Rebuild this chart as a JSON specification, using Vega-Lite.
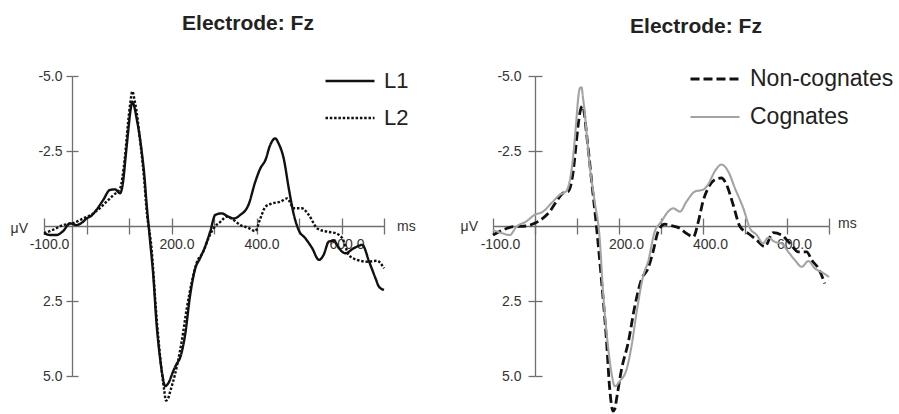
{
  "$schema": "https://vega.github.io/schema/vega-lite/v6.json",
  "padding": {"left": 10, "top": 13, "right": 2, "bottom": 2},
  "bounds": "flush",
  "spacing": 109,
  "datasets": {
    "lang": [
      {"t": -100, "uv": 0.24, "cond": "L1"}, {"t": -85, "uv": 0.3, "cond": "L1"}, {"t": -71, "uv": 0.3, "cond": "L1"}, {"t": -55, "uv": 0.17, "cond": "L1"}, {"t": -39, "uv": -0.09, "cond": "L1"}, {"t": -24, "uv": -0.03, "cond": "L1"}, {"t": -10, "uv": -0.12, "cond": "L1"}, {"t": 0, "uv": -0.25, "cond": "L1"}, {"t": 12, "uv": -0.35, "cond": "L1"}, {"t": 23, "uv": -0.53, "cond": "L1"}, {"t": 39, "uv": -0.86, "cond": "L1"}, {"t": 55, "uv": -1.2, "cond": "L1"}, {"t": 67, "uv": -1.22, "cond": "L1"}, {"t": 79, "uv": -1.09, "cond": "L1"}, {"t": 86, "uv": -1.47, "cond": "L1"}, {"t": 92, "uv": -2.3, "cond": "L1"}, {"t": 98, "uv": -3.14, "cond": "L1"}, {"t": 103, "uv": -3.8, "cond": "L1"}, {"t": 108, "uv": -4.14, "cond": "L1"}, {"t": 113, "uv": -3.95, "cond": "L1"}, {"t": 118, "uv": -3.58, "cond": "L1"}, {"t": 124, "uv": -3.1, "cond": "L1"}, {"t": 130, "uv": -2.47, "cond": "L1"}, {"t": 136, "uv": -1.7, "cond": "L1"}, {"t": 141, "uv": -0.81, "cond": "L1"}, {"t": 149, "uv": 0.41, "cond": "L1"}, {"t": 157, "uv": 1.63, "cond": "L1"}, {"t": 165, "uv": 3.29, "cond": "L1"}, {"t": 173, "uv": 4.4, "cond": "L1"}, {"t": 179, "uv": 5.0, "cond": "L1"}, {"t": 185, "uv": 5.34, "cond": "L1"}, {"t": 193, "uv": 5.23, "cond": "L1"}, {"t": 204, "uv": 4.84, "cond": "L1"}, {"t": 212, "uv": 4.6, "cond": "L1"}, {"t": 220, "uv": 4.4, "cond": "L1"}, {"t": 232, "uv": 3.63, "cond": "L1"}, {"t": 244, "uv": 2.29, "cond": "L1"}, {"t": 256, "uv": 1.41, "cond": "L1"}, {"t": 267, "uv": 1.08, "cond": "L1"}, {"t": 279, "uv": 0.69, "cond": "L1"}, {"t": 291, "uv": 0.19, "cond": "L1"}, {"t": 303, "uv": -0.37, "cond": "L1"}, {"t": 318, "uv": -0.42, "cond": "L1"}, {"t": 334, "uv": -0.31, "cond": "L1"}, {"t": 346, "uv": -0.25, "cond": "L1"}, {"t": 362, "uv": -0.37, "cond": "L1"}, {"t": 381, "uv": -0.7, "cond": "L1"}, {"t": 397, "uv": -1.47, "cond": "L1"}, {"t": 409, "uv": -1.92, "cond": "L1"}, {"t": 421, "uv": -2.2, "cond": "L1"}, {"t": 432, "uv": -2.69, "cond": "L1"}, {"t": 444, "uv": -2.92, "cond": "L1"}, {"t": 452, "uv": -2.75, "cond": "L1"}, {"t": 464, "uv": -2.25, "cond": "L1"}, {"t": 476, "uv": -1.25, "cond": "L1"}, {"t": 488, "uv": -0.37, "cond": "L1"}, {"t": 499, "uv": 0.13, "cond": "L1"}, {"t": 515, "uv": 0.41, "cond": "L1"}, {"t": 531, "uv": 0.74, "cond": "L1"}, {"t": 547, "uv": 1.13, "cond": "L1"}, {"t": 558, "uv": 0.96, "cond": "L1"}, {"t": 570, "uv": 0.52, "cond": "L1"}, {"t": 582, "uv": 0.49, "cond": "L1"}, {"t": 594, "uv": 0.74, "cond": "L1"}, {"t": 609, "uv": 0.91, "cond": "L1"}, {"t": 629, "uv": 0.74, "cond": "L1"}, {"t": 649, "uv": 0.63, "cond": "L1"}, {"t": 665, "uv": 1.19, "cond": "L1"}, {"t": 680, "uv": 1.74, "cond": "L1"}, {"t": 688, "uv": 2.02, "cond": "L1"}, {"t": 700, "uv": 2.13, "cond": "L1"},
      {"t": -100, "uv": 0.24, "cond": "L2"}, {"t": -79, "uv": 0.13, "cond": "L2"}, {"t": -55, "uv": -0.03, "cond": "L2"}, {"t": -32, "uv": -0.09, "cond": "L2"}, {"t": -8, "uv": -0.25, "cond": "L2"}, {"t": 16, "uv": -0.42, "cond": "L2"}, {"t": 31, "uv": -0.59, "cond": "L2"}, {"t": 47, "uv": -0.81, "cond": "L2"}, {"t": 63, "uv": -1.03, "cond": "L2"}, {"t": 79, "uv": -1.25, "cond": "L2"}, {"t": 90, "uv": -2.25, "cond": "L2"}, {"t": 98, "uv": -3.47, "cond": "L2"}, {"t": 103, "uv": -4.1, "cond": "L2"}, {"t": 108, "uv": -4.49, "cond": "L2"}, {"t": 113, "uv": -4.2, "cond": "L2"}, {"t": 118, "uv": -3.8, "cond": "L2"}, {"t": 124, "uv": -3.1, "cond": "L2"}, {"t": 130, "uv": -2.36, "cond": "L2"}, {"t": 136, "uv": -1.5, "cond": "L2"}, {"t": 141, "uv": -0.59, "cond": "L2"}, {"t": 153, "uv": 0.74, "cond": "L2"}, {"t": 165, "uv": 3.07, "cond": "L2"}, {"t": 177, "uv": 4.84, "cond": "L2"}, {"t": 183, "uv": 5.5, "cond": "L2"}, {"t": 187, "uv": 5.82, "cond": "L2"}, {"t": 192, "uv": 5.75, "cond": "L2"}, {"t": 197, "uv": 5.51, "cond": "L2"}, {"t": 208, "uv": 4.96, "cond": "L2"}, {"t": 224, "uv": 3.85, "cond": "L2"}, {"t": 236, "uv": 2.74, "cond": "L2"}, {"t": 248, "uv": 1.85, "cond": "L2"}, {"t": 259, "uv": 1.24, "cond": "L2"}, {"t": 275, "uv": 0.85, "cond": "L2"}, {"t": 287, "uv": 0.41, "cond": "L2"}, {"t": 299, "uv": 0.08, "cond": "L2"}, {"t": 315, "uv": -0.14, "cond": "L2"}, {"t": 330, "uv": -0.31, "cond": "L2"}, {"t": 346, "uv": -0.2, "cond": "L2"}, {"t": 362, "uv": -0.03, "cond": "L2"}, {"t": 381, "uv": 0.06, "cond": "L2"}, {"t": 397, "uv": 0.17, "cond": "L2"}, {"t": 409, "uv": -0.25, "cond": "L2"}, {"t": 421, "uv": -0.64, "cond": "L2"}, {"t": 436, "uv": -0.75, "cond": "L2"}, {"t": 456, "uv": -0.81, "cond": "L2"}, {"t": 472, "uv": -0.92, "cond": "L2"}, {"t": 488, "uv": -0.59, "cond": "L2"}, {"t": 507, "uv": -0.59, "cond": "L2"}, {"t": 523, "uv": -0.37, "cond": "L2"}, {"t": 543, "uv": 0.08, "cond": "L2"}, {"t": 566, "uv": 0.19, "cond": "L2"}, {"t": 586, "uv": 0.24, "cond": "L2"}, {"t": 602, "uv": 0.41, "cond": "L2"}, {"t": 617, "uv": 0.96, "cond": "L2"}, {"t": 637, "uv": 1.13, "cond": "L2"}, {"t": 661, "uv": 1.19, "cond": "L2"}, {"t": 684, "uv": 1.16, "cond": "L2"}, {"t": 700, "uv": 1.41, "cond": "L2"}
    ],
    "cog": [
      {"t": -100, "uv": 0.3, "cond": "Non-cognates"}, {"t": -76, "uv": 0.13, "cond": "Non-cognates"}, {"t": -52, "uv": 0.02, "cond": "Non-cognates"}, {"t": -21, "uv": 0.0, "cond": "Non-cognates"}, {"t": -1, "uv": -0.09, "cond": "Non-cognates"}, {"t": 19, "uv": -0.26, "cond": "Non-cognates"}, {"t": 35, "uv": -0.48, "cond": "Non-cognates"}, {"t": 51, "uv": -0.82, "cond": "Non-cognates"}, {"t": 67, "uv": -1.1, "cond": "Non-cognates"}, {"t": 79, "uv": -1.15, "cond": "Non-cognates"}, {"t": 91, "uv": -1.82, "cond": "Non-cognates"}, {"t": 97, "uv": -2.6, "cond": "Non-cognates"}, {"t": 103, "uv": -3.39, "cond": "Non-cognates"}, {"t": 108, "uv": -3.85, "cond": "Non-cognates"}, {"t": 113, "uv": -4.0, "cond": "Non-cognates"}, {"t": 118, "uv": -3.7, "cond": "Non-cognates"}, {"t": 122, "uv": -3.17, "cond": "Non-cognates"}, {"t": 128, "uv": -2.4, "cond": "Non-cognates"}, {"t": 134, "uv": -1.6, "cond": "Non-cognates"}, {"t": 146, "uv": -0.03, "cond": "Non-cognates"}, {"t": 158, "uv": 1.76, "cond": "Non-cognates"}, {"t": 170, "uv": 3.77, "cond": "Non-cognates"}, {"t": 178, "uv": 5.45, "cond": "Non-cognates"}, {"t": 186, "uv": 6.17, "cond": "Non-cognates"}, {"t": 190, "uv": 6.1, "cond": "Non-cognates"}, {"t": 194, "uv": 5.78, "cond": "Non-cognates"}, {"t": 206, "uv": 4.78, "cond": "Non-cognates"}, {"t": 222, "uv": 3.88, "cond": "Non-cognates"}, {"t": 238, "uv": 2.65, "cond": "Non-cognates"}, {"t": 254, "uv": 1.76, "cond": "Non-cognates"}, {"t": 269, "uv": 1.42, "cond": "Non-cognates"}, {"t": 281, "uv": 0.86, "cond": "Non-cognates"}, {"t": 293, "uv": 0.19, "cond": "Non-cognates"}, {"t": 309, "uv": -0.06, "cond": "Non-cognates"}, {"t": 325, "uv": -0.01, "cond": "Non-cognates"}, {"t": 345, "uv": 0.08, "cond": "Non-cognates"}, {"t": 361, "uv": 0.25, "cond": "Non-cognates"}, {"t": 377, "uv": 0.36, "cond": "Non-cognates"}, {"t": 389, "uv": -0.15, "cond": "Non-cognates"}, {"t": 400, "uv": -0.82, "cond": "Non-cognates"}, {"t": 412, "uv": -1.26, "cond": "Non-cognates"}, {"t": 428, "uv": -1.54, "cond": "Non-cognates"}, {"t": 444, "uv": -1.6, "cond": "Non-cognates"}, {"t": 456, "uv": -1.38, "cond": "Non-cognates"}, {"t": 472, "uv": -0.7, "cond": "Non-cognates"}, {"t": 488, "uv": 0.02, "cond": "Non-cognates"}, {"t": 508, "uv": 0.25, "cond": "Non-cognates"}, {"t": 528, "uv": 0.47, "cond": "Non-cognates"}, {"t": 547, "uv": 0.69, "cond": "Non-cognates"}, {"t": 567, "uv": 0.22, "cond": "Non-cognates"}, {"t": 587, "uv": 0.3, "cond": "Non-cognates"}, {"t": 607, "uv": 0.58, "cond": "Non-cognates"}, {"t": 627, "uv": 0.86, "cond": "Non-cognates"}, {"t": 647, "uv": 0.86, "cond": "Non-cognates"}, {"t": 659, "uv": 1.14, "cond": "Non-cognates"}, {"t": 675, "uv": 1.42, "cond": "Non-cognates"}, {"t": 690, "uv": 1.92, "cond": "Non-cognates"},
      {"t": -100, "uv": 0.13, "cond": "Cognates"}, {"t": -76, "uv": 0.25, "cond": "Cognates"}, {"t": -60, "uv": 0.3, "cond": "Cognates"}, {"t": -44, "uv": 0.02, "cond": "Cognates"}, {"t": -21, "uv": -0.15, "cond": "Cognates"}, {"t": -1, "uv": -0.37, "cond": "Cognates"}, {"t": 19, "uv": -0.48, "cond": "Cognates"}, {"t": 39, "uv": -0.76, "cond": "Cognates"}, {"t": 59, "uv": -1.04, "cond": "Cognates"}, {"t": 75, "uv": -1.17, "cond": "Cognates"}, {"t": 84, "uv": -1.6, "cond": "Cognates"}, {"t": 90, "uv": -2.2, "cond": "Cognates"}, {"t": 95, "uv": -2.94, "cond": "Cognates"}, {"t": 100, "uv": -3.8, "cond": "Cognates"}, {"t": 103, "uv": -4.28, "cond": "Cognates"}, {"t": 107, "uv": -4.6, "cond": "Cognates"}, {"t": 111, "uv": -4.62, "cond": "Cognates"}, {"t": 114, "uv": -4.3, "cond": "Cognates"}, {"t": 118, "uv": -3.84, "cond": "Cognates"}, {"t": 124, "uv": -2.9, "cond": "Cognates"}, {"t": 130, "uv": -2.05, "cond": "Cognates"}, {"t": 142, "uv": -0.82, "cond": "Cognates"}, {"t": 154, "uv": 0.41, "cond": "Cognates"}, {"t": 162, "uv": 2.2, "cond": "Cognates"}, {"t": 172, "uv": 3.77, "cond": "Cognates"}, {"t": 182, "uv": 4.89, "cond": "Cognates"}, {"t": 190, "uv": 5.34, "cond": "Cognates"}, {"t": 202, "uv": 5.17, "cond": "Cognates"}, {"t": 218, "uv": 4.78, "cond": "Cognates"}, {"t": 230, "uv": 3.99, "cond": "Cognates"}, {"t": 242, "uv": 2.87, "cond": "Cognates"}, {"t": 258, "uv": 1.64, "cond": "Cognates"}, {"t": 269, "uv": 1.2, "cond": "Cognates"}, {"t": 285, "uv": 0.19, "cond": "Cognates"}, {"t": 301, "uv": -0.15, "cond": "Cognates"}, {"t": 317, "uv": -0.48, "cond": "Cognates"}, {"t": 329, "uv": -0.59, "cond": "Cognates"}, {"t": 345, "uv": -0.48, "cond": "Cognates"}, {"t": 361, "uv": -0.82, "cond": "Cognates"}, {"t": 381, "uv": -1.15, "cond": "Cognates"}, {"t": 400, "uv": -1.21, "cond": "Cognates"}, {"t": 412, "uv": -1.38, "cond": "Cognates"}, {"t": 428, "uv": -1.82, "cond": "Cognates"}, {"t": 444, "uv": -2.05, "cond": "Cognates"}, {"t": 460, "uv": -1.82, "cond": "Cognates"}, {"t": 476, "uv": -1.26, "cond": "Cognates"}, {"t": 496, "uv": -0.59, "cond": "Cognates"}, {"t": 512, "uv": 0.08, "cond": "Cognates"}, {"t": 528, "uv": 0.3, "cond": "Cognates"}, {"t": 543, "uv": 0.58, "cond": "Cognates"}, {"t": 555, "uv": 0.39, "cond": "Cognates"}, {"t": 571, "uv": 0.53, "cond": "Cognates"}, {"t": 587, "uv": 0.58, "cond": "Cognates"}, {"t": 603, "uv": 0.86, "cond": "Cognates"}, {"t": 619, "uv": 1.14, "cond": "Cognates"}, {"t": 635, "uv": 1.36, "cond": "Cognates"}, {"t": 651, "uv": 1.17, "cond": "Cognates"}, {"t": 667, "uv": 1.42, "cond": "Cognates"}, {"t": 682, "uv": 1.53, "cond": "Cognates"}, {"t": 700, "uv": 1.7, "cond": "Cognates"}
    ]
  },
  "hconcat": [
    {
      "width": 340,
      "height": 300,
      "title": {"text": "Electrode: Fz", "fontSize": 21, "fontWeight": "bold", "font": "Liberation Sans", "color": "#222", "anchor": "middle", "frame": "group", "dx": 34, "offset": 21},
      "layer": [
        {
          "data": {"name": "lang"},
          "mark": {"type": "line", "strokeWidth": 2.4, "color": "#111", "interpolate": "monotone"},
          "encoding": {
            "x": {"field": "t", "type": "quantitative", "title": null,
              "scale": {"domain": [-100, 700], "nice": false, "zero": false},
              "axis": {"orient": "bottom", "offset": -150, "values": [-100, 0, 100, 200, 300, 400, 500, 600, 700], "tickSize": 8, "labelPadding": 3, "labelOffset": 5, "labelFlush": false, "labelOverlap": false, "labelExpr": "indexof([-100, 200, 400, 600], datum.value) >= 0 ? replace(format(datum.value, '.1f'), '\u2212', '-') : ''"}},
            "y": {"field": "uv", "type": "quantitative", "title": null,
              "scale": {"domain": [-5, 5], "reverse": true, "nice": false, "zero": false},
              "axis": {"orient": "left", "offset": -28, "values": [-5, -2.5, 2.5, 5], "labelExpr": "replace(format(datum.value, '.1f'), '\u2212', '-')", "tickSize": 6, "labelPadding": 4}},
            "strokeDash": {"field": "cond", "type": "nominal",
              "scale": {"domain": ["L1", "L2"], "range": [[1, 0], [2.5, 1.8]]},
              "legend": {"orient": "none", "legendX": 280, "legendY": -21, "title": null, "symbolType": "stroke", "symbolSize": 2401, "symbolStrokeWidth": 2.4, "symbolStrokeColor": "#111", "labelFontSize": 22, "labelFont": "Liberation Sans", "labelColor": "#222", "labelOffset": 8, "rowPadding": -10, "padding": 0}}
          }
        },
        {
          "data": {"values": [{}]},
          "mark": {"type": "text", "text": "μV", "align": "right", "baseline": "middle", "dx": -16, "dy": 3, "fontSize": 14, "font": "Liberation Sans", "color": "#333"},
          "encoding": {
            "x": {"datum": -100, "type": "quantitative", "title": null,
              "axis": {"orient": "top", "offset": -150, "values": [-100, 0, 100, 200, 300, 400, 500, 600, 700], "tickSize": 8, "labels": false, "domain": false}},
            "y": {"datum": 0, "type": "quantitative", "title": null,
              "axis": {"orient": "right", "offset": -312, "values": [-5, -2.5, 2.5, 5], "tickSize": 6, "labels": false, "domain": false}}
          }
        },
        {
          "data": {"values": [{}]},
          "mark": {"type": "text", "text": "ms", "align": "left", "baseline": "middle", "dx": 13, "dy": 1, "fontSize": 14, "font": "Liberation Sans", "color": "#333"},
          "encoding": {
            "x": {"datum": 700, "type": "quantitative", "axis": null},
            "y": {"datum": 0, "type": "quantitative", "axis": null}
          }
        }
      ],
      "resolve": {"axis": {"x": "independent", "y": "independent"}}
    },
    {
      "width": 336,
      "height": 300,
      "title": {"text": "Electrode: Fz", "fontSize": 21, "fontWeight": "bold", "font": "Liberation Sans", "color": "#222", "anchor": "middle", "frame": "group", "dx": 35, "offset": 16},
      "layer": [
        {
          "data": {"name": "cog"},
          "mark": {"type": "line", "interpolate": "monotone"},
          "encoding": {
            "x": {"field": "t", "type": "quantitative", "title": null,
              "scale": {"domain": [-100, 700], "nice": false, "zero": false},
              "axis": {"orient": "bottom", "offset": -150, "values": [-100, 0, 100, 200, 300, 400, 500, 600, 700], "tickSize": 8, "labelPadding": 3, "labelOffset": 7, "labelFlush": false, "labelOverlap": false, "labelExpr": "indexof([-100, 200, 400, 600], datum.value) >= 0 ? replace(format(datum.value, '.1f'), '\u2212', '-') : ''"}},
            "y": {"field": "uv", "type": "quantitative", "title": null,
              "scale": {"domain": [-5, 5], "reverse": true, "nice": false, "zero": false},
              "axis": {"orient": "left", "offset": -42, "values": [-5, -2.5, 2.5, 5], "labelExpr": "replace(format(datum.value, '.1f'), '\u2212', '-')", "tickSize": 7, "labelPadding": 7}},
            "stroke": {"field": "cond", "type": "nominal",
              "scale": {"domain": ["Non-cognates", "Cognates"], "range": ["#111111", "#a3a3a3"]},
              "legend": {"orient": "none", "legendX": 196, "legendY": -23, "title": null, "symbolType": "stroke", "symbolSize": 2401, "symbolStrokeWidth": 2.5, "labelFontSize": 23, "labelFont": "Liberation Sans", "labelColor": "#222", "labelOffset": 9, "rowPadding": -10, "padding": 0}},
            "strokeDash": {"field": "cond", "type": "nominal",
              "scale": {"domain": ["Non-cognates", "Cognates"], "range": [[9, 4], [1, 0]]},
              "legend": {"orient": "none", "legendX": 196, "legendY": -23, "title": null, "symbolType": "stroke", "symbolSize": 2401, "symbolStrokeWidth": 2.5, "labelFontSize": 23, "labelFont": "Liberation Sans", "labelColor": "#222", "labelOffset": 9, "rowPadding": -10, "padding": 0}},
            "strokeWidth": {"field": "cond", "type": "nominal",
              "scale": {"domain": ["Non-cognates", "Cognates"], "range": [2.8, 2.1]}, "legend": null}
          }
        },
        {
          "data": {"values": [{}]},
          "mark": {"type": "text", "text": "μV", "align": "right", "baseline": "middle", "dx": -15, "dy": 1, "fontSize": 14, "font": "Liberation Sans", "color": "#333"},
          "encoding": {
            "x": {"datum": -100, "type": "quantitative", "title": null,
              "axis": {"orient": "top", "offset": -150, "values": [-100, 0, 100, 200, 300, 400, 500, 600, 700], "tickSize": 8, "labels": false, "domain": false}},
            "y": {"datum": 0, "type": "quantitative", "title": null,
              "axis": {"orient": "right", "offset": -294, "values": [-5, -2.5, 2.5, 5], "tickSize": 7, "labels": false, "domain": false}}
          }
        },
        {
          "data": {"values": [{}]},
          "mark": {"type": "text", "text": "ms", "align": "left", "baseline": "middle", "dx": 9, "dy": -2, "fontSize": 14, "font": "Liberation Sans", "color": "#333"},
          "encoding": {
            "x": {"datum": 700, "type": "quantitative", "axis": null},
            "y": {"datum": 0, "type": "quantitative", "axis": null}
          }
        }
      ],
      "resolve": {"axis": {"x": "independent", "y": "independent"}}
    }
  ],
  "resolve": {"scale": {"strokeDash": "independent", "stroke": "independent", "strokeWidth": "independent"}, "legend": {"strokeDash": "independent", "stroke": "independent"}},
  "config": {
    "view": {"stroke": null},
    "font": "Liberation Sans",
    "axis": {"grid": false, "domainColor": "#6f6f6f", "tickColor": "#6f6f6f", "domainWidth": 1.3, "tickWidth": 1.3, "labelFont": "Liberation Sans", "labelFontSize": 14, "labelColor": "#333333"}
  }
}
